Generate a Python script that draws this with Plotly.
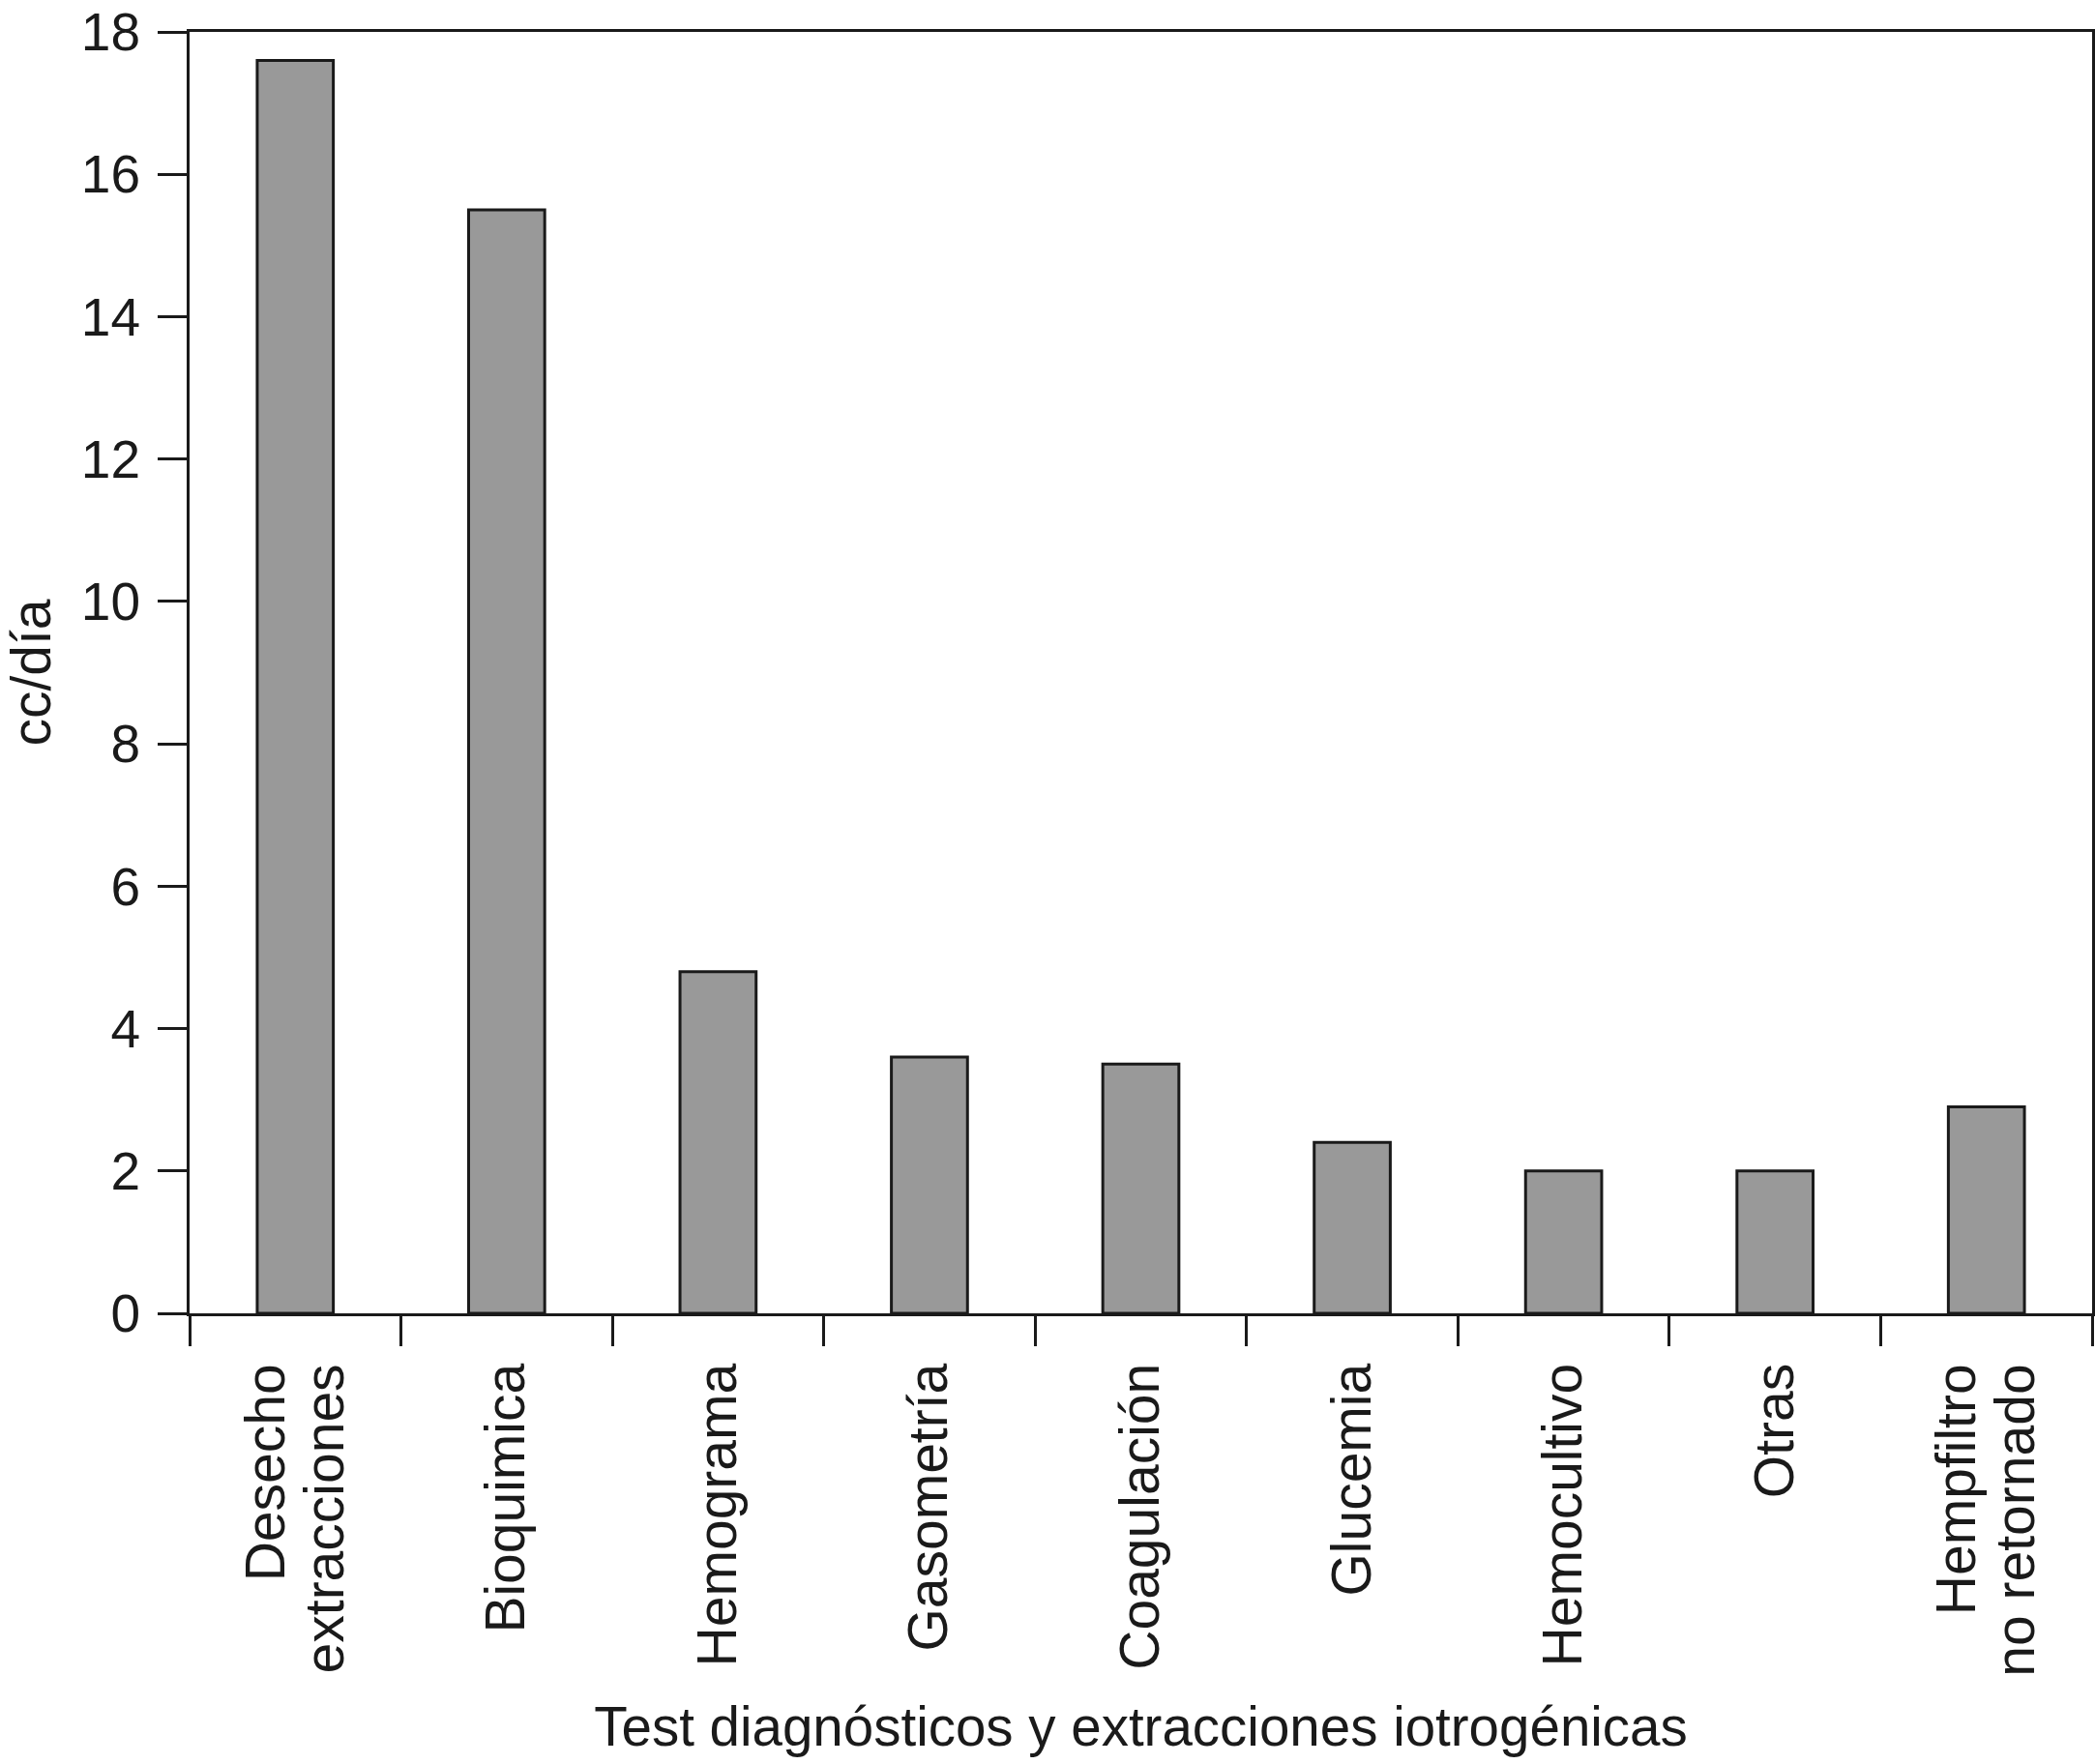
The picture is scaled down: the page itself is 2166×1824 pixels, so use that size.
import plotly.graph_objects as go

categories = ["Desecho extracciones", "Bioquimica", "Hemograma", "Gasometría",
              "Coagulación", "Glucemia", "Hemocultivo", "Otras", "Hempfiltro no retornado"]
label_line1 = ["Desecho", "Bioquimica", "Hemograma", "Gasometría",
               "Coagulación", "Glucemia", "Hemocultivo", "Otras", "Hempfiltro"]
label_line2 = ["extracciones", "", "", "", "", "", "", "", "no retornado"]
values = [17.6, 15.5, 4.8, 3.6, 3.5, 2.4, 2.0, 2.0, 2.9]
y_ticks = [0, 2, 4, 6, 8, 10, 12, 14, 16, 18]

INK = "#1a1a1a"
FONT = "Liberation Sans, Arial, sans-serif"
LBL = dict(size=57, family=FONT, color=INK)

idx = list(range(len(categories)))
single = [i for i in idx if not label_line2[i]]
double = [i for i in idx if label_line2[i]]

fig = go.Figure(go.Bar(
    x=categories, y=values,
    width=0.36,
    marker=dict(color="#999999", line=dict(color=INK, width=3)),
))

fig.update_layout(
    width=2166, height=1824,
    margin=dict(l=196, r=3, t=33, b=466),
    paper_bgcolor="white", plot_bgcolor="white",
    showlegend=False,
    font=dict(family=FONT, color=INK, size=56),
    xaxis=dict(
        type="category",
        categoryarray=categories, categoryorder="array",
        tickson="boundaries",
        ticks="outside", ticklen=31, tickwidth=3, tickcolor=INK,
        showline=True, linecolor=INK, linewidth=3, mirror=True,
        showgrid=False, zeroline=False, automargin=False,
        tickangle=-90, tickfont=LBL, ticklabelstandoff=26,
        tickmode="array",
        tickvals=[categories[i] for i in idx],
        ticktext=[label_line1[i] if i in single else " " for i in idx],
        title=dict(text="Test diagnósticos y extracciones iotrogénicas",
                   font=dict(size=56.5, family=FONT, color=INK), standoff=40),
    ),
    xaxis2=dict(
        overlaying="x", anchor="y", side="bottom",
        range=[-0.5, len(categories) - 0.5],
        tickmode="array", tickvals=double,
        ticktext=[label_line1[i] for i in double],
        ticks="", showline=False, showgrid=False, zeroline=False, automargin=False,
        tickangle=-90, tickfont=LBL, ticklabelstandoff=40, ticklabelshift=-30,
    ),
    xaxis3=dict(
        overlaying="x", anchor="y", side="bottom",
        range=[-0.5, len(categories) - 0.5],
        tickmode="array", tickvals=double,
        ticktext=[label_line2[i] for i in double],
        ticks="", showline=False, showgrid=False, zeroline=False, automargin=False,
        tickangle=-90, tickfont=LBL, ticklabelstandoff=40, ticklabelshift=31,
    ),
    yaxis=dict(
        range=[0, 18], tickvals=y_ticks,
        ticks="outside", ticklen=30, tickwidth=3, tickcolor=INK,
        showline=True, linecolor=INK, linewidth=3, mirror=True,
        showgrid=False, zeroline=False, automargin=False,
        tickfont=dict(size=55, family=FONT, color=INK),
        ticklabelstandoff=7,
        title=dict(text="cc/día", font=dict(size=57, family=FONT, color=INK), standoff=46),
    ),
)
# invisible helper traces so the overlay label axes are rendered
for ax in ["x2", "x3"]:
    fig.add_trace(go.Scatter(x=[double[0]], y=[0], xaxis=ax, yaxis="y",
                             mode="markers", marker=dict(opacity=0),
                             hoverinfo="skip", showlegend=False))

fig.write_html("out.html", config={"displayModeBar": False},
               post_script="document.body.style.margin='0';document.body.style.overflow='hidden';")
